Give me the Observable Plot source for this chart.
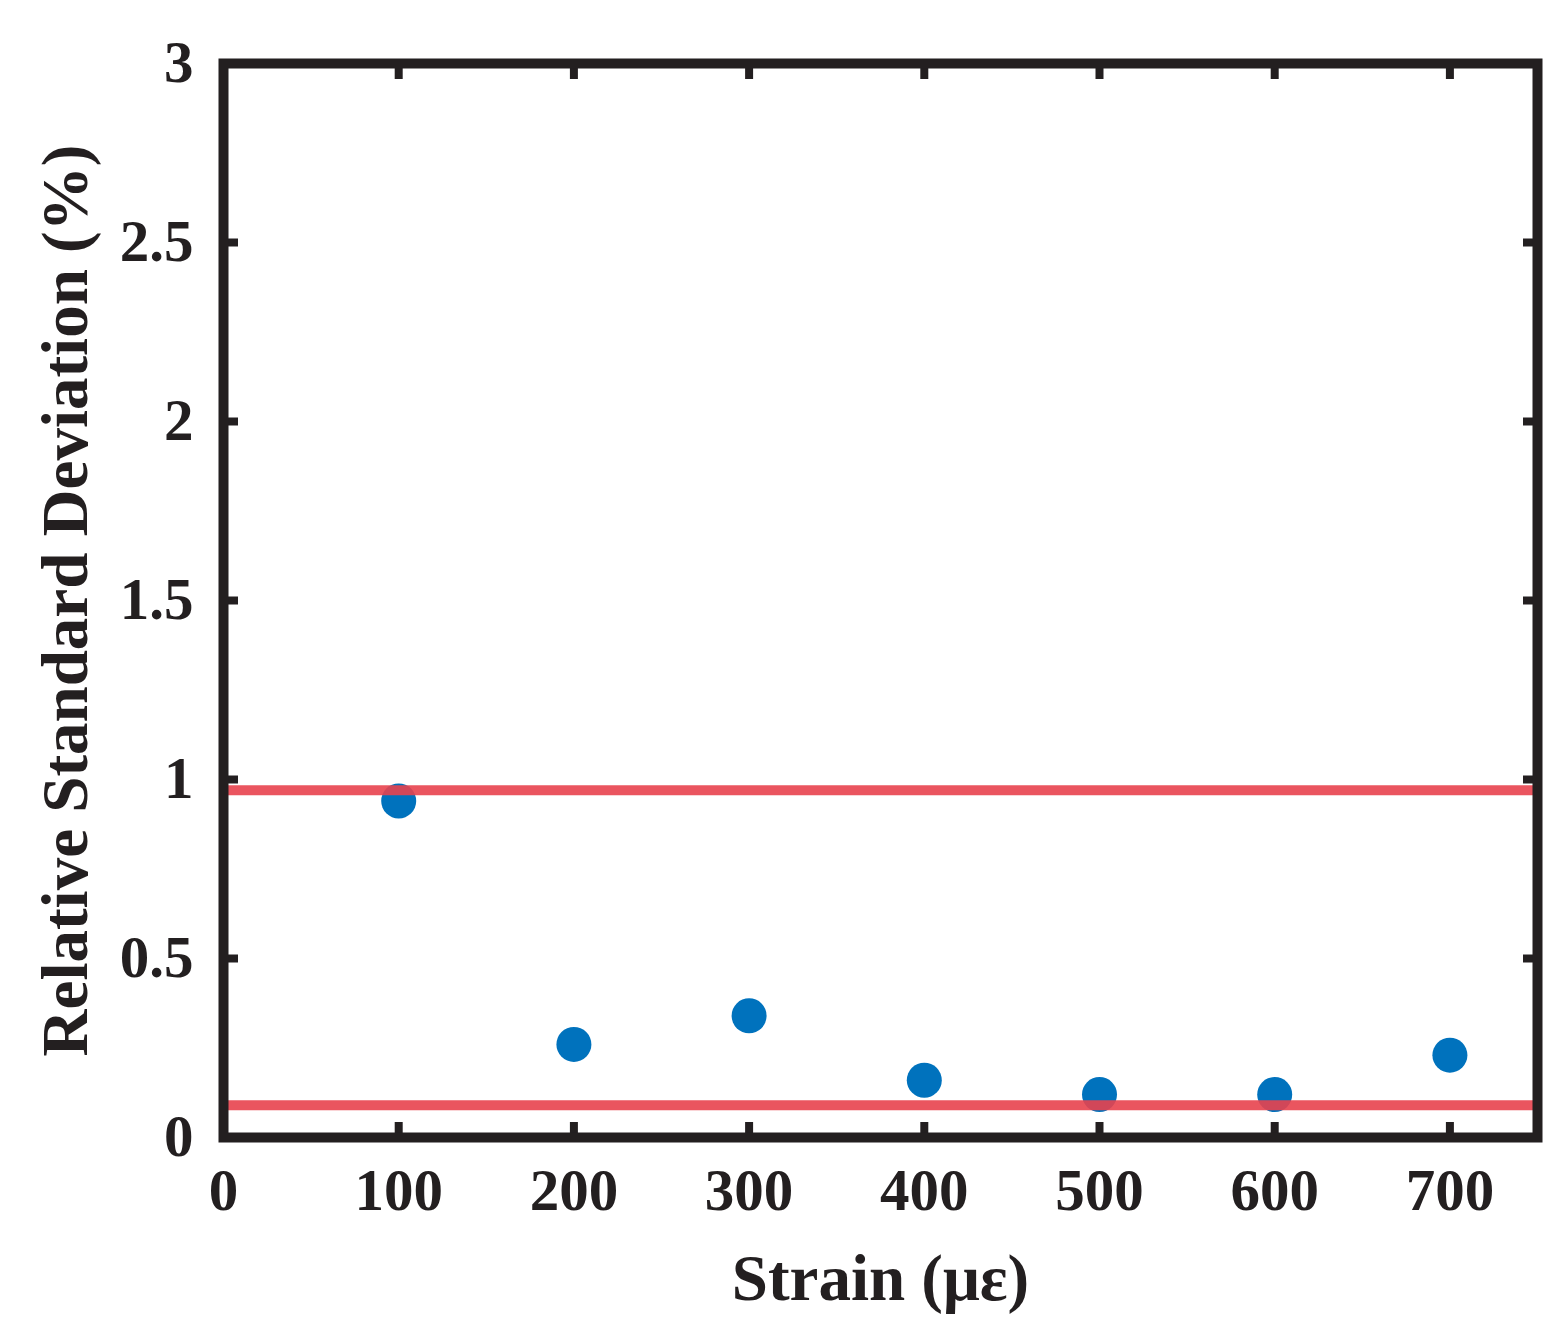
<!DOCTYPE html>
<html>
<head>
<meta charset="utf-8">
<script src="https://cdn.jsdelivr.net/npm/d3@7"></script>
<script src="https://cdn.jsdelivr.net/npm/@observablehq/plot@0.6"></script>
<style>
  html, body { margin: 0; padding: 0; background: #fff; }
  #chart svg { display: block; }
</style>
</head>
<body>
<div id="chart"></div>
<script>
const strain = [100, 200, 300, 400, 500, 600, 700];
const rsd = [0.94, 0.26, 0.34, 0.16, 0.12, 0.12, 0.23];
const limits = [0.97, 0.09];
const xTicks = [0, 100, 200, 300, 400, 500, 600, 700];
const yTicks = [0, 0.5, 1, 1.5, 2, 2.5, 3];
const xLabel = "Strain (με)";
const yLabel = "Relative Standard Deviation (%)";

const points = strain.map((s, i) => ({strain: s, rsd: rsd[i]}));
const axisColor = "#231f20";
const fs = 59;
const labelFs = 65;

const chart = Plot.plot({
  width: 1563,
  height: 1344,
  marginLeft: 223,
  marginRight: 26,
  marginTop: 63,
  marginBottom: 207,
  style: {fontFamily: "'Liberation Serif', 'Times New Roman', serif", fontWeight: "bold", background: "#fff"},
  x: {domain: [0, 750]},
  y: {domain: [0, 3]},
  marks: [
    Plot.dot(points, {x: "strain", y: "rsd", r: 17.5, fill: "#0072BD", stroke: "none"}),
    Plot.ruleY(limits, {stroke: "#e8434e", strokeWidth: 10, strokeOpacity: 0.9}),
    Plot.axisX({anchor: "bottom", ticks: xTicks, tickSize: -15, tickPadding: 46, strokeWidth: 8, stroke: axisColor,
      fill: axisColor, fontSize: fs, tickFormat: d => String(d), label: null}),
    Plot.axisX({anchor: "bottom", ticks: [], label: xLabel, labelAnchor: "center", labelOffset: 162,
      labelArrow: "none", fontSize: labelFs, fill: axisColor, tickSize: 0}),
    Plot.axisX({anchor: "top", ticks: xTicks, tickSize: -15, strokeWidth: 8, stroke: axisColor, tickFormat: () => "", label: null}),
    Plot.axisY({anchor: "left", ticks: yTicks, tickSize: -15, tickPadding: 45, strokeWidth: 8, stroke: axisColor,
      fill: axisColor, fontSize: fs, tickFormat: d => String(d), label: null}),
    Plot.axisY({anchor: "left", ticks: [], label: yLabel, labelAnchor: "center", labelOffset: 183,
      labelArrow: "none", fontSize: labelFs, fill: axisColor, tickSize: 0}),
    Plot.axisY({anchor: "right", ticks: yTicks, tickSize: -15, strokeWidth: 8, stroke: axisColor, tickFormat: () => "", label: null}),
    Plot.frame({stroke: axisColor, strokeWidth: 10})
  ]
});
document.getElementById("chart").appendChild(chart);
</script>
</body>
</html>
